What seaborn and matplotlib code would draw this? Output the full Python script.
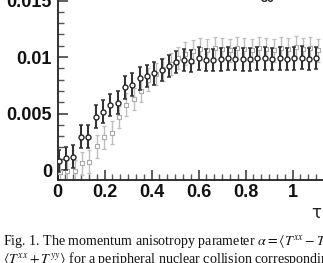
import numpy as np
import pandas as pd
import matplotlib
matplotlib.use("Agg")
import matplotlib.pyplot as plt
from matplotlib.ticker import MultipleLocator, FixedLocator
import seaborn as sns

# ---- data ----
tau_dark = [0.005, 0.036, 0.068, 0.099, 0.130, 0.162, 0.193, 0.224, 0.256, 0.287,
            0.318, 0.350, 0.381, 0.412, 0.444, 0.475, 0.506, 0.538, 0.569, 0.600,
            0.632, 0.663, 0.694, 0.726, 0.757, 0.788, 0.820, 0.851, 0.882, 0.914,
            0.945, 0.976, 1.008, 1.039, 1.070, 1.102]
alpha_dark = [0.0008, 0.00103, 0.00118, 0.00295, 0.00295, 0.00472, 0.00516, 0.00575, 0.00596, 0.00731,
              0.00755, 0.00811, 0.00833, 0.00855, 0.00885, 0.0092, 0.00956, 0.00973, 0.00965, 0.00988,
              0.00973, 0.00973, 0.0098, 0.00988, 0.00982, 0.0098, 0.0098, 0.00988, 0.00988, 0.00982,
              0.00988, 0.00982, 0.00988, 0.00994, 0.00982, 0.0099]
err_dark = [0.001] * 36

tau_gray = [0.011, 0.042, 0.074, 0.105, 0.136, 0.168, 0.199, 0.230, 0.262, 0.293,
            0.324, 0.356, 0.387, 0.418, 0.450, 0.481, 0.512, 0.544, 0.575, 0.606,
            0.638, 0.669, 0.700, 0.732, 0.763, 0.794, 0.826, 0.857, 0.888, 0.920,
            0.951, 0.982, 1.014, 1.045, 1.076, 1.108]
alpha_gray = [-0.0002, -0.0001, -0.0001, 0.0006, 0.00074, 0.0021, 0.0029, 0.0033, 0.0047, 0.0058,
              0.0063, 0.0070, 0.0080, 0.0085, 0.0089, 0.0094, 0.0099, 0.0103, 0.0105, 0.0107,
              0.0106, 0.0108, 0.0107, 0.0106, 0.0108, 0.0107, 0.0106, 0.0108, 0.0107, 0.0106,
              0.0108, 0.0107, 0.0109, 0.0107, 0.0108, 0.0106]
err_gray = [0.001] * 36

y_ticks = [0, 0.005, 0.01, 0.015]
y_ticklabels = ["0", "0.005", "0.01", "0.015"]
x_ticks = [0, 0.2, 0.4, 0.6, 0.8, 1.0]
x_ticklabels = ["0", "0.2", "0.4", "0.6", "0.8", "1"]

caption1 = r"Fig. 1. The momentum anisotropy parameter $\alpha = \langle T^{xx} - T^{yy}\rangle /$"
caption2 = r"$\langle T^{xx} + T^{yy}\rangle$ for a peripheral nuclear collision corresponding"

# ---- figure ----
sns.set_style("ticks")
plt.rcParams["mathtext.fontset"] = "stix"
W, H = 323, 263
fig = plt.figure(figsize=(W / 100, H / 100), dpi=100)
fig.patch.set_facecolor("white")

ax = fig.add_axes([57.5 / W, (H - 180) / H, 282 / W, 196.4 / H])
ax.set_xlim(0, 1.2)
ax.set_ylim(-0.00088, 0.0165)
ax.set_facecolor("white")

df_d = pd.DataFrame({"tau": tau_dark, "alpha": alpha_dark, "err": err_dark})
df_g = pd.DataFrame({"tau": tau_gray, "alpha": alpha_gray, "err": err_gray})

ax.errorbar(df_g["tau"], df_g["alpha"], yerr=df_g["err"], fmt="none",
            ecolor="#bdbdbd", elinewidth=1.0, capsize=1.5, capthick=0.9, zorder=2)
sns.scatterplot(data=df_g, x="tau", y="alpha", ax=ax, marker="s", s=9,
                facecolor="white", edgecolor="#ababab", linewidth=0.8, zorder=3)
ax.errorbar(df_d["tau"], df_d["alpha"], yerr=df_d["err"], fmt="none",
            ecolor="#333333", elinewidth=1.5, capsize=1.3, capthick=1.1, zorder=4)
sns.scatterplot(data=df_d, x="tau", y="alpha", ax=ax, marker="o", s=13,
                facecolor="white", edgecolor="#262626", linewidth=1.0, zorder=5)

ax.set_xlabel("")
ax.set_ylabel("")
for s in ["top", "right"]:
    ax.spines[s].set_visible(False)
for s in ["left", "bottom"]:
    ax.spines[s].set_linewidth(1.3)
    ax.spines[s].set_color("#222222")

ax.xaxis.set_major_locator(FixedLocator(x_ticks))
ax.xaxis.set_minor_locator(MultipleLocator(0.2 / 6))
ax.yaxis.set_major_locator(FixedLocator(y_ticks))
ax.yaxis.set_minor_locator(MultipleLocator(0.001))
ax.set_xticklabels(x_ticklabels)
ax.set_yticklabels(y_ticklabels)
ax.tick_params(which="major", direction="in", length=7, width=1.1, color="#333333")
ax.tick_params(which="minor", direction="in", length=4, width=1.0, color="#555555")
ax.tick_params(axis="x", which="major", pad=3)
ax.tick_params(axis="y", which="major", pad=4)
for lab in ax.get_xticklabels() + ax.get_yticklabels():
    lab.set_fontfamily("Liberation Sans")
    lab.set_fontweight("bold")
    lab.set_fontsize(13)
    lab.set_color("#111111")

fig.text(316 / W, 1 - 213 / H, "τ", fontsize=12, family="DejaVu Sans",
         ha="center", va="center", color="#222222")
fig.text(268 / W, 1 + 1 / H, "30", fontsize=9, family="Liberation Sans",
         fontweight="bold", ha="center", va="center", color="#222222")

fig.text(3 / W, 1 - 241 / H, caption1, fontsize=10.1, family="Liberation Serif",
         ha="left", va="center", color="#111111")
fig.text(3 / W, 1 - 259 / H, caption2, fontsize=10.1, family="Liberation Serif",
         ha="left", va="center", color="#111111")

fig.savefig("out.png", dpi=100, facecolor="white")
